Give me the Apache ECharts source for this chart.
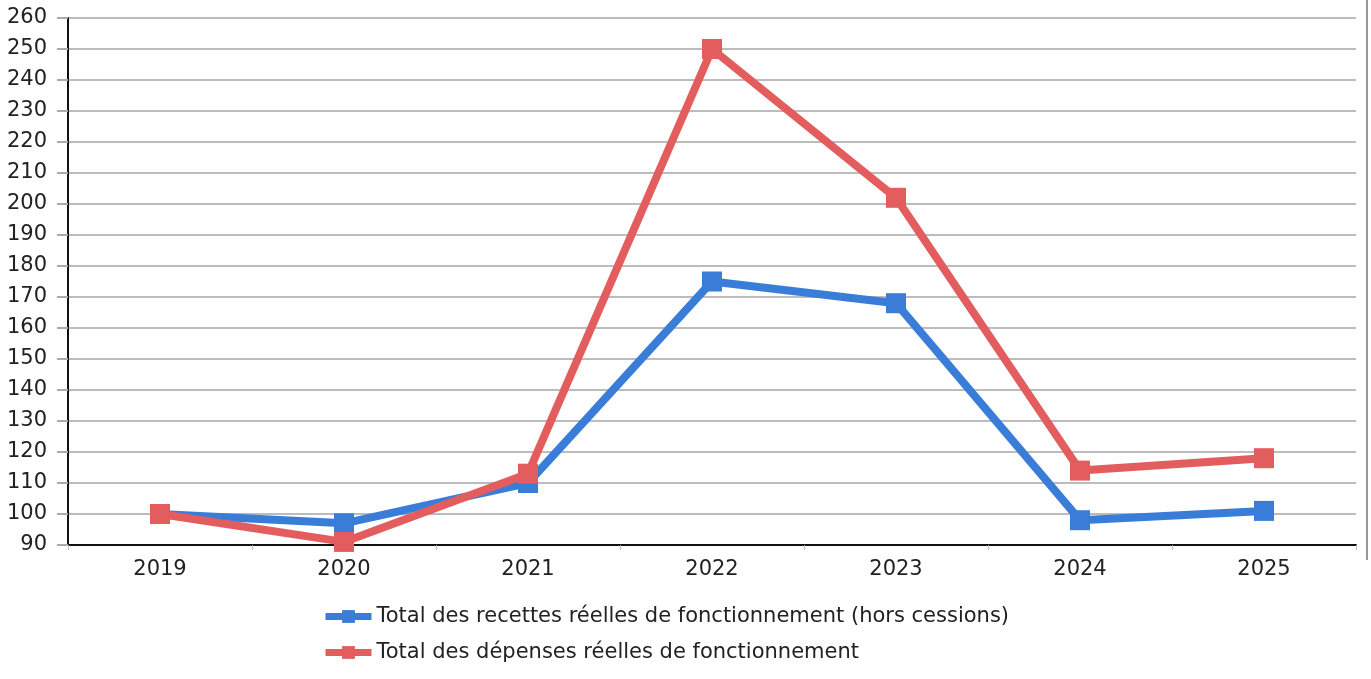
<!DOCTYPE html>
<html>
<head>
<meta charset="utf-8">
<script src="https://cdn.jsdelivr.net/npm/echarts@6/dist/echarts.min.js"></script>
<style>
  html, body { margin: 0; padding: 0; background: #fff; }
  #chart { width: 1371px; height: 679px; }
</style>
</head>
<body>
<div id="chart"></div>
<script>
const years = ['2019', '2020', '2021', '2022', '2023', '2024', '2025'];
const recettes = [100, 97, 110, 175, 168, 98, 101];
const depenses = [100, 91, 113, 250, 202, 114, 118];
const seriesNames = [
  'Total des recettes réelles de fonctionnement (hors cessions)',
  'Total des dépenses réelles de fonctionnement'
];
const colors = ['#3a7dd8', '#e35d5f'];

const chart = echarts.init(document.getElementById('chart'));
const font = 'DejaVu Sans';

function lineSeries(name, data, color) {
  return {
    name: name,
    type: 'line',
    data: data,
    symbol: 'rect',
    symbolSize: 20,
    lineStyle: { width: 8, color: color },
    itemStyle: { color: color },
    emphasis: { disabled: true },
    animation: false
  };
}

chart.setOption({
  backgroundColor: '#ffffff',
  textStyle: { fontFamily: font },
  grid: { left: 68, right: 15, top: 18, bottom: 134, containLabel: false },
  legend: {
    orient: 'vertical',
    left: 317,
    top: 601,
    itemWidth: 46,
    itemHeight: 16,
    itemGap: 15,
    lineStyle: { width: 7 },
    textStyle: { fontFamily: font, fontSize: 21, color: '#222' },
    data: seriesNames
  },
  xAxis: {
    type: 'category',
    data: years,
    boundaryGap: true,
    axisLine: { lineStyle: { color: '#111', width: 2 } },
    axisTick: { show: true, length: 5, lineStyle: { color: '#bbb' } },
    axisLabel: { fontFamily: font, fontSize: 21, color: '#222', margin: 14 },
    splitLine: { show: false }
  },
  yAxis: {
    type: 'value',
    min: 90,
    max: 260,
    interval: 10,
    axisLine: { show: true, lineStyle: { color: '#111', width: 2 } },
    axisTick: { show: true, length: 11, lineStyle: { color: '#aaa', width: 2 } },
    axisLabel: { fontFamily: font, fontSize: 21, color: '#222', margin: 21 },
    splitLine: { show: true, lineStyle: { color: '#bcbcbc', width: 2 } }
  },
  graphic: [{
    type: 'line',
    shape: { x1: 1367, y1: 0, x2: 1367, y2: 560 },
    style: { stroke: '#999', lineWidth: 2 },
    silent: true
  }],
  series: [
    lineSeries(seriesNames[0], recettes, colors[0]),
    lineSeries(seriesNames[1], depenses, colors[1])
  ]
});
</script>
</body>
</html>
